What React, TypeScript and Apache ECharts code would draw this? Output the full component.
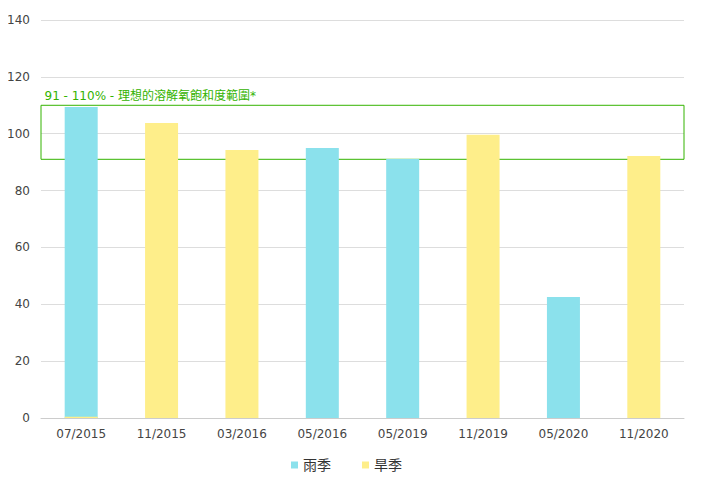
import React, { useEffect, useRef } from 'react';
import * as echarts from 'echarts';

const categories = ['07/2015', '11/2015', '03/2016', '05/2016', '05/2019', '11/2019', '05/2020', '11/2020'];
const rainySeason = [109.4, 0, 0, 95.0, 91.1, 0, 42.6, 0];
const drySeason = [0.4, 103.8, 94.3, 0, 0, 99.6, 0, 92.2];
const rangeLow = 91;
const rangeHigh = 110;
const rangeLabel = '91 - 110% - 理想的溶解氧飽和度範圍*';

const FONT = "'DejaVu Sans', 'Noto Sans CJK TC', sans-serif";

const App: React.FC = () => {
	const chartRef = useRef<HTMLDivElement>(null);

	useEffect(() => {
		if (!chartRef.current) return;
		const chart = echarts.init(chartRef.current, undefined, { renderer: 'svg' });

		const option: echarts.EChartsOption = {
			animation: false,
			textStyle: { fontFamily: FONT },
			grid: { left: 41, right: 18, top: 20, bottom: 80 },
			legend: {
				data: ['雨季', '旱季'],
				left: 286,
				top: 453,
				itemWidth: 7,
				itemHeight: 7,
				itemGap: 31,
				icon: 'rect',
				textStyle: { color: '#333', fontSize: 14, fontFamily: FONT }
			},
			xAxis: {
				type: 'category',
				data: categories,
				axisTick: { show: false },
				axisLine: { lineStyle: { color: '#ccc' } },
				axisLabel: { color: '#444', fontSize: 12, margin: 10, fontFamily: FONT }
			},
			yAxis: {
				type: 'value',
				min: 0,
				max: 140,
				interval: 20,
				axisLine: { show: false },
				axisTick: { show: false },
				axisLabel: { color: '#444', fontSize: 12, margin: 11, fontFamily: FONT },
				splitLine: { lineStyle: { color: '#ddd' } }
			},
			series: [
				{
					name: '雨季',
					type: 'bar',
					data: rainySeason,
					barWidth: 33,
					barGap: '-100%',
					itemStyle: { color: '#8be1ec' }
				},
				{
					name: '旱季',
					type: 'bar',
					data: drySeason,
					barWidth: 33,
					itemStyle: { color: '#feee8a' },
					markArea: {
						silent: true,
						itemStyle: {
							color: 'rgba(0,0,0,0)',
							borderColor: '#33b300',
							borderWidth: 1
						},
						label: {
							show: true,
							position: [4, -15],
							color: '#33b300',
							fontSize: 12,
							fontFamily: FONT
						},
						data: [[{ yAxis: rangeLow, name: rangeLabel }, { yAxis: rangeHigh }]]
					}
				}
			]
		};

		chart.setOption(option);
		return () => {
			chart.dispose();
		};
	}, []);

	return <div ref={chartRef} style={{ width: 702, height: 498, margin: -8 }} />;
};

export default App;
